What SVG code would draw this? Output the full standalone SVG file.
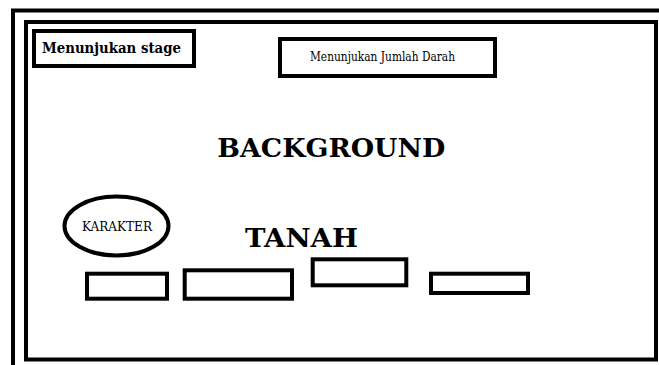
<svg xmlns="http://www.w3.org/2000/svg" width="659" height="365" viewBox="0 0 659 365">
<style>
.box{fill:#fff;stroke:#000;stroke-width:4}
.ln{fill:none;stroke:#000;stroke-width:4}
text{fill:#000;font-family:"DejaVu Serif","Liberation Serif",serif}
.b{font-weight:bold}
</style>
<rect width="659" height="365" fill="#fff"/>
<g id="outer-frame">
<polyline class="ln" points="13,365 13,10.5 659,10.5"/>
</g>
<g id="screen">
<rect class="box" x="26" y="22" width="630" height="337.5"/>
</g>
<g id="stage">
<rect class="box" x="34" y="31" width="160" height="35"/>
<text class="b" x="42" y="53" font-size="15" textLength="139" lengthAdjust="spacingAndGlyphs">Menunjukan stage</text>
</g>
<g id="darah">
<rect class="box" x="280" y="39" width="215" height="37"/>
<text x="310" y="61" font-size="12.5" textLength="145" lengthAdjust="spacingAndGlyphs">Menunjukan Jumlah Darah</text>
</g>
<g id="background">
<text class="b" x="217.3" y="156.7" font-size="25.5" textLength="228" lengthAdjust="spacingAndGlyphs">BACKGROUND</text>
</g>
<g id="karakter">
<ellipse class="box" cx="116.5" cy="226" rx="52" ry="29.5" stroke-width="3.5"/>
<text x="82" y="230.7" font-size="13" textLength="70" lengthAdjust="spacingAndGlyphs">KARAKTER</text>
</g>
<g id="tanah">
<text class="b" x="245" y="246.7" font-size="25.5" textLength="113" lengthAdjust="spacingAndGlyphs">TANAH</text>
</g>
<g id="platform1"><rect class="box" x="87" y="273.7" width="80" height="25"/></g>
<g id="platform2"><rect class="box" x="184.7" y="270.3" width="107.3" height="28.4"/></g>
<g id="platform3"><rect class="box" x="312.7" y="259.3" width="93.6" height="26"/></g>
<g id="platform4"><rect class="box" x="431" y="273.7" width="97" height="19.3"/></g>
</svg>
